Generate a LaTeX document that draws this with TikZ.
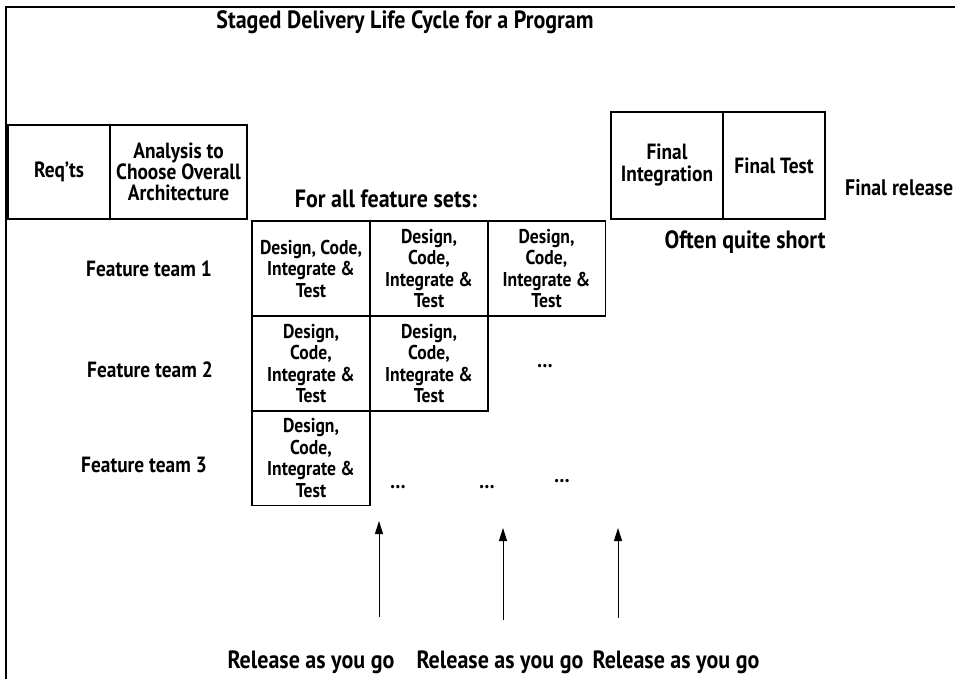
\documentclass[tikz,border=0pt]{standalone}
\usepackage{fontspec}
\setmainfont{PT Sans}[FakeStretch=0.88]
\usetikzlibrary{arrows.meta}
\newcommand{\fsz}[2]{\fontsize{#1}{#2}\selectfont\bfseries}
\begin{document}
\begin{tikzpicture}[x=1pt,y=-1pt,
  lbl/.style={font=\fsz{22}{22}, inner sep=0pt},
  big/.style={font=\fsz{25}{25}, inner sep=0pt},
  box/.style={draw, line width=1.1pt, align=center, inner sep=0pt,
    font=\fsz{22}{21}},
  cell/.style={box, minimum width=118pt, minimum height=95pt,
    font=\fsz{20}{21.5}},
  rel/.style={line width=1pt, -{Triangle[width=8pt,length=13pt]}}]
\useasboundingbox (0,0) rectangle (955,679);
% frame along top and left edges
\draw[line width=2pt] (955,7) -- (6,7) -- (6,679);
% title
\node[big] (title) at (405,22) {Staged Delivery Life Cycle for a Program};
% up-front work
\node[box, minimum width=102pt, minimum height=94pt] (req) at (59,172) {Req'ts};
\node[box, minimum width=137pt, minimum height=94pt] (ana) at (178.5,172)
  {Analysis to\\Choose Overall\\Architecture};
% final stages
\node[box, minimum width=112pt, minimum height=107pt, font=\fsz{22}{22}] (fint) at (667,165.5) {Final\\Integration};
\node[box, minimum width=102pt, minimum height=107pt] (ftest) at (774,165.5) {Final Test};
\node[big, font=\fsz{22.5}{23}, anchor=west] (frel) at (845,188) {Final release};
\node[big] (short) at (745,242) {Often quite short};
\node[big] (forall) at (386,199) {For all feature sets:};
% feature teams
\node[lbl] (ft1) at (149,269) {Feature team 1};
\node[lbl] (ft2) at (150,370) {Feature team 2};
\node[lbl] (ft3) at (144,465) {Feature team 3};
% staged work cells
\node[cell] (c11) at (311,268.5) {Design, Code,\\Integrate \&\\Test};
\node[cell] (c12) at (429,268.5) {Design,\\Code,\\Integrate \&\\Test};
\node[cell] (c13) at (546.5,268.5) {Design,\\Code,\\Integrate \&\\Test};
\node[cell] (c21) at (311,363.5) {Design,\\Code,\\Integrate \&\\Test};
\node[cell] (c22) at (429,363.5) {Design,\\Code,\\Integrate \&\\Test};
\node[cell] (c31) at (311,458) {Design,\\Code,\\Integrate \&\\Test};
\node[lbl] (d23) at (545,366) {\dots};
\node[lbl] (d32) at (398,487) {\dots};
\node[lbl] (d33) at (487,487) {\dots};
\node[lbl] (d34) at (562,481) {\dots};
% releases
\node[big] (r1) at (311,662) {Release as you go};
\node[big] (r2) at (500,662) {Release as you go};
\node[big] (r3) at (676,662) {Release as you go};
\coordinate (a1s) at (379,617); \coordinate (a1e) at (379,521);
\coordinate (a2s) at (503,620); \coordinate (a2e) at (503,528);
\coordinate (a3s) at (618,618); \coordinate (a3e) at (618,528);
\draw[rel] (a1s) -- (a1e);
\draw[rel] (a2s) -- (a2e);
\draw[rel] (a3s) -- (a3e);
\end{tikzpicture}
\end{document}
